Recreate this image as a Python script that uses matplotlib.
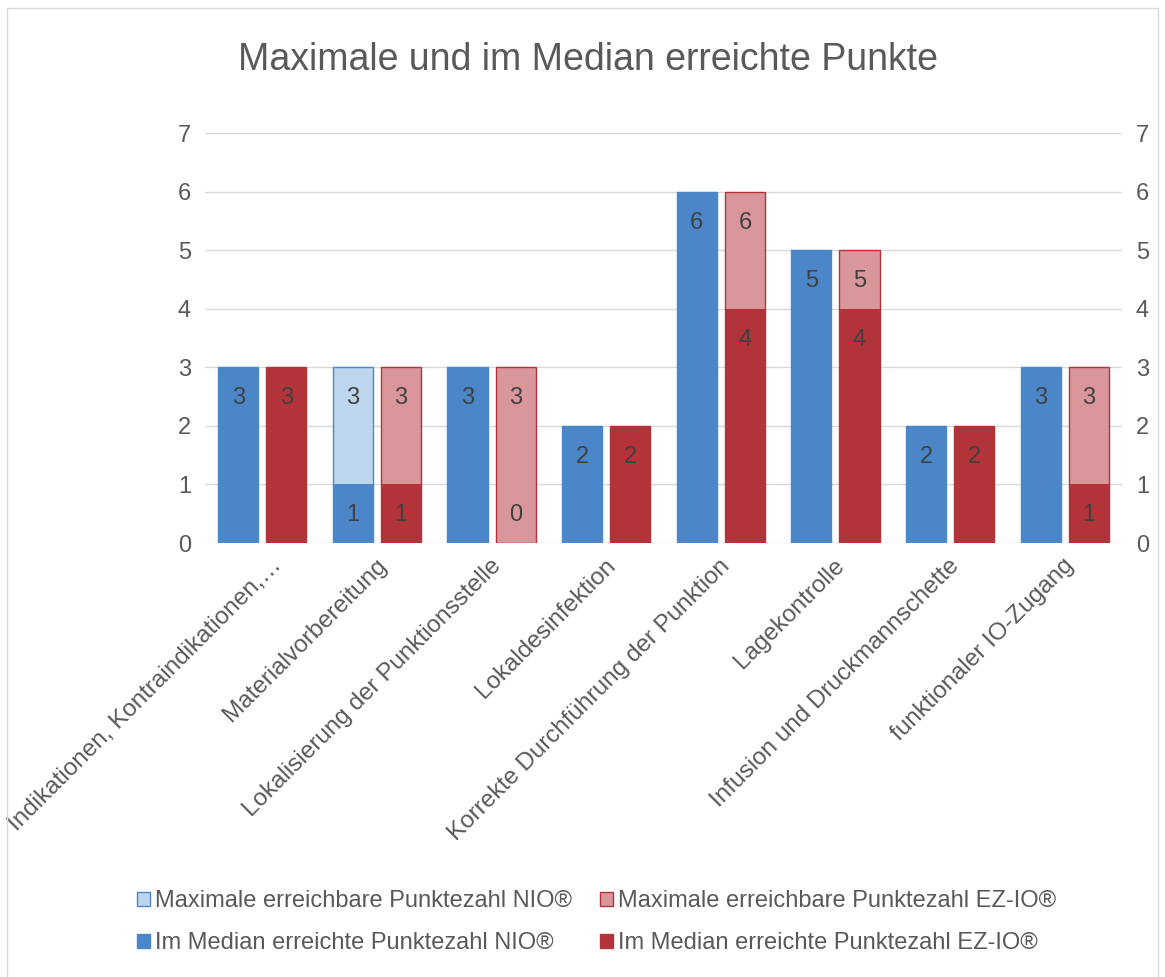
import numpy as np
import matplotlib.pyplot as plt
import matplotlib.transforms as mtransforms
from matplotlib.patches import Rectangle, Patch

categories = ["Indikationen, Kontraindikationen,…", "Materialvorbereitung",
              "Lokalisierung der Punktionsstelle", "Lokaldesinfektion",
              "Korrekte Durchführung der Punktion", "Lagekontrolle",
              "Infusion und Druckmannschette", "funktionaler IO-Zugang"]
max_nio = [3, 3, 3, 2, 6, 5, 2, 3]
max_ez = [3, 3, 3, 2, 6, 5, 2, 3]
med_nio = [3, 1, 3, 2, 6, 5, 2, 3]
med_ez = [3, 1, 0, 2, 4, 4, 2, 1]

labels = ["Maximale erreichbare Punktezahl NIO®", "Maximale erreichbare Punktezahl EZ-IO®",
          "Im Median erreichte Punktezahl NIO®", "Im Median erreichte Punktezahl EZ-IO®"]

blue = "#4a86c8"
light_blue = "#bdd6ee"
red = "#b2343a"
light_red = "#d9979b"
txt = "#595959"

plt.rcParams['font.family'] = ['Liberation Sans', 'DejaVu Sans']

fig = plt.figure(figsize=(11.65, 9.77), dpi=100)
ax = fig.add_axes([205 / 1165, 1 - 543 / 977, 917 / 1165, 410 / 977])

x = np.arange(len(categories))
w = 0.35
off = 0.21

# light "max" bars behind, dark "median" bars on top
ax.bar(x - off, max_nio, w, color=light_blue, edgecolor=blue, linewidth=1, zorder=2)
ax.bar(x + off, max_ez, w, color=light_red, edgecolor=red, linewidth=1, zorder=2)
ax.bar(x - off, med_nio, w, color=blue, zorder=3)
ax.bar(x + off, med_ez, w, color=red, zorder=3)


def put_labels(xs, maxv, medv):
    for xi, m, d in zip(xs, maxv, medv):
        ax.annotate(str(m), (xi, m), xytext=(0, -31), textcoords='offset pixels',
                    ha='center', va='center', fontsize=17, color='#404040', zorder=4)
        if d != m:
            dy = -31 if d > 0 else 28
            ax.annotate(str(d), (xi, d), xytext=(0, dy), textcoords='offset pixels',
                        ha='center', va='center', fontsize=17, color='#404040', zorder=4)


put_labels(x - off, max_nio, med_nio)
put_labels(x + off, max_ez, med_ez)

ax.set_xlim(-0.5, len(categories) - 0.5)
ax.set_ylim(0, 7)
ax.set_yticks(range(8))
ax.grid(axis='y', color='#d9d9d9', linewidth=1, zorder=0)
for s in ax.spines.values():
    s.set_visible(False)
ax.tick_params(axis='y', length=0, labelsize=17, labelcolor=txt, pad=10,
               labelright=True, right=False)
ax.tick_params(axis='x', length=0, pad=14)
ax.set_xticks(x)
ax.set_xticklabels(categories, rotation=45, ha='right', va='center',
                   rotation_mode='anchor', fontsize=17.5, color=txt)
for i, lab in enumerate(ax.get_xticklabels()):
    dx = 16 if i == 0 else 6
    lab.set_transform(lab.get_transform()
                      + mtransforms.ScaledTranslation(dx / 100, 0, fig.dpi_scale_trans))

fig.text(0.505, 1 - 60 / 977, "Maximale und im Median erreichte Punkte",
         ha='center', va='center', fontsize=27, color=txt)

handles = [Patch(facecolor=light_blue, edgecolor=blue),
           Patch(facecolor=blue, edgecolor=blue),
           Patch(facecolor=light_red, edgecolor=red),
           Patch(facecolor=red, edgecolor=red)]
fig.legend(handles, [labels[0], labels[2], labels[1], labels[3]], ncol=2,
           loc='center', bbox_to_anchor=(0.512, 1 - 922 / 977), frameon=False,
           fontsize=17, handlelength=0.55, handleheight=0.55, handletextpad=0.2,
           columnspacing=1.2, labelspacing=0.85, labelcolor=txt)

# thin frame round the whole chart
fig.patches.append(Rectangle((7 / 1165, -0.01), 1151 / 1165, 1 - 8 / 977 + 0.01,
                             transform=fig.transFigure, fill=False,
                             edgecolor='#d9d9d9', linewidth=1))

fig.savefig("out.png", dpi=100)
